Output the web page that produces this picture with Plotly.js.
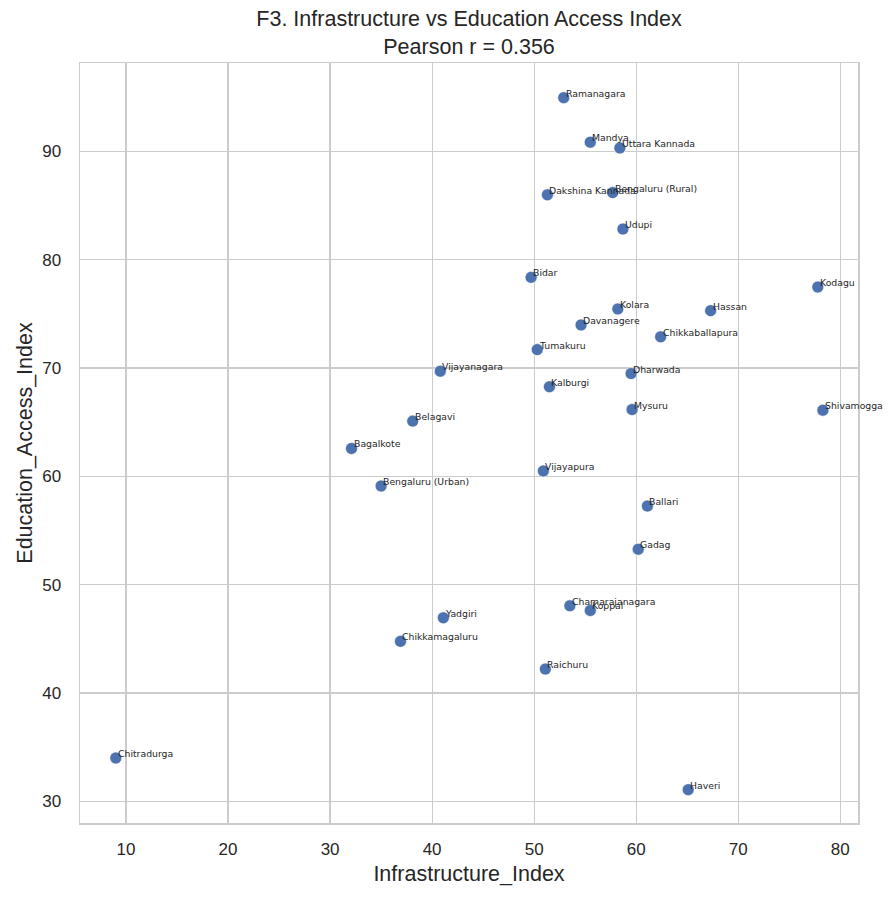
<!DOCTYPE html>
<html>
<head>
<meta charset="utf-8">
<script src="https://cdn.plot.ly/plotly-3.0.1.min.js"></script>
<style>
  body { margin: 0; background: #fff; }
  #chart { width: 896px; height: 900px; }
</style>
</head>
<body>
<div id="chart"></div>
<script>
// ------------------------------
// District values
// ------------------------------
var districts = [
  'Ramanagara', 'Mandya', 'Uttara Kannada', 'Dakshina Kannada', 'Bengaluru (Rural)',
  'Udupi', 'Bidar', 'Kodagu', 'Kolara', 'Hassan',
  'Davanagere', 'Chikkaballapura', 'Tumakuru', 'Shivamogga', 'Vijayanagara',
  'Belagavi', 'Bagalkote', 'Bengaluru (Urban)', 'Vijayapura', 'Kalburgi',
  'Dharwada', 'Mysuru', 'Ballari', 'Gadag', 'Chamarajanagara',
  'Koppal', 'Yadgiri', 'Chikkamagaluru', 'Raichuru', 'Chitradurga',
  'Haveri'
];

var infrastructure = [
  52.9, 55.5, 58.4, 51.3, 57.7,
  58.7, 49.7, 77.8, 58.2, 67.3,
  54.6, 62.4, 50.3, 78.3, 40.8,
  38.1, 32.1, 35.0, 50.9, 51.5,
  59.5, 59.6, 61.1, 60.2, 53.5,
  55.5, 41.1, 36.9, 51.1, 9.0,
  65.1
];

var education = [
  94.96, 90.85, 90.32, 85.99, 86.2,
  82.83, 78.37, 77.48, 75.46, 75.3,
  73.98, 72.88, 71.7, 66.11, 69.71,
  65.1, 62.58, 59.11, 60.5, 68.27,
  69.49, 66.17, 57.26, 53.27, 48.05,
  47.62, 46.94, 44.77, 42.21, 34.0,
  31.08
];

var xTicks = [10, 20, 30, 40, 50, 60, 70, 80];
var yTicks = [30, 40, 50, 60, 70, 80, 90];

// ------------------------------
// Scatter
// ------------------------------
var pts = {
  x: infrastructure,
  y: education,
  mode: 'markers',
  type: 'scatter',
  marker: { color: '#4C72B0', size: 12, line: { color: '#ffffff', width: 0.6 } },
  hoverinfo: 'skip'
};

// name labels next to each point
var labels = districts.map(function (d, i) {
  return {
    x: infrastructure[i],
    y: education[i],
    text: d,
    showarrow: false,
    xanchor: 'left',
    yanchor: 'bottom',
    yshift: -3,
    font: { family: 'DejaVu Sans', size: 9.3, color: '#262626' }
  };
});

var axisStyle = {
  showgrid: true,
  gridcolor: '#cccccc',
  gridwidth: 1.2,
  zeroline: false,
  showline: true,
  linecolor: '#cccccc',
  linewidth: 1.5,
  mirror: true,
  ticks: '',
  tickfont: { family: 'Liberation Sans', size: 17, color: '#262626' }
};

var layout = {
  width: 896,
  height: 900,
  margin: { l: 80, r: 38, t: 63, b: 77 },
  paper_bgcolor: '#ffffff',
  plot_bgcolor: '#ffffff',
  showlegend: false,
  font: { family: 'Liberation Sans', color: '#262626' },
  title: {
    text: 'F3. Infrastructure vs Education Access Index<br>Pearson r = 0.356',
    font: { family: 'Liberation Sans', size: 21.5, color: '#262626' },
    x: 0.5235,
    xanchor: 'center',
    yref: 'paper',
    y: 1,
    yanchor: 'bottom',
    pad: { b: 37 }
  },
  xaxis: Object.assign({}, axisStyle, {
    range: [5.49, 81.74],
    tickvals: xTicks,
    ticklabelstandoff: 10,
    title: { text: 'Infrastructure_Index', font: { family: 'Liberation Sans', size: 21.5, color: '#262626' }, standoff: 8 }
  }),
  yaxis: Object.assign({}, axisStyle, {
    range: [28.0, 98.16],
    tickvals: yTicks,
    ticklabelstandoff: 14,
    title: { text: 'Education_Access_Index', font: { family: 'Liberation Sans', size: 21.5, color: '#262626' }, standoff: 3 }
  }),
  annotations: labels
};

Plotly.newPlot('chart', [pts], layout, { displayModeBar: false, staticPlot: true });
</script>
</body>
</html>
